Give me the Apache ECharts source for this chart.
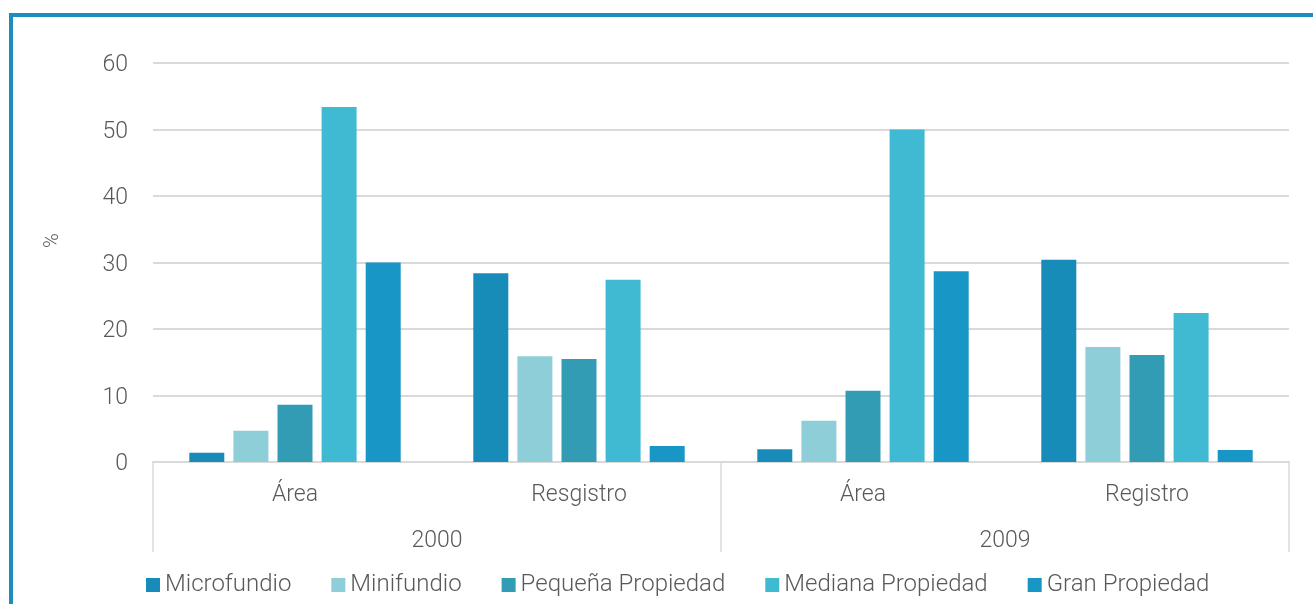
<!DOCTYPE html>
<html>
<head>
<meta charset="utf-8">
<script src="https://cdn.jsdelivr.net/npm/echarts@6/dist/echarts.min.js"></script>
<style>
html,body{margin:0;padding:0;background:#fff;}
#c{width:1313px;height:604px;}
</style>
</head>
<body>
<div id="c"></div>
<script>
const categories = ['Área', 'Resgistro', 'Área', 'Registro'];
const years = ['2000', '2009'];
const seriesNames = ['Microfundio', 'Minifundio', 'Pequeña Propiedad', 'Mediana Propiedad', 'Gran Propiedad'];
const microfundio = [1.4, 28.4, 1.9, 30.4];
const minifundio = [4.7, 15.9, 6.2, 17.3];
const pequena = [8.6, 15.5, 10.7, 16.1];
const mediana = [53.4, 27.4, 50.0, 22.4];
const gran = [30.0, 2.4, 28.7, 1.8];
const yTicks = {min: 0, max: 60, interval: 10};

const colors = ['#178cb9', '#8dced8', '#329cb4', '#3fbad2', '#1896c6'];
const values = [microfundio, minifundio, pequena, mediana, gran];
const FONT = 'Roboto';
const TXT = '#595959';
const FS = 23;

const chart = echarts.init(document.getElementById('c'), null, {renderer: 'canvas'});
chart.setOption({
  animation: false,
  color: colors,
  grid: {left: 153, right: 24, top: 63, bottom: 142, containLabel: false},
  graphic: [{
    type: 'rect', silent: true, z: 100,
    shape: {x: 11, y: 15, width: 2000, height: 2000},
    style: {fill: 'none', stroke: '#1b8ebd', lineWidth: 4}
  }],
  legend: {
    left: 146, top: 573, padding: 0,
    itemWidth: 14, itemHeight: 14, itemGap: 40,
    icon: 'rect',
    textStyle: {fontFamily: FONT, fontWeight: 300, fontSize: 24, color: TXT},
    data: seriesNames
  },
  xAxis: [{
    type: 'category', data: categories, position: 'bottom',
    axisLine: {show: true, lineStyle: {color: '#d9d9d9', width: 2}},
    axisTick: {show: false},
    axisLabel: {fontFamily: FONT, fontWeight: 300, fontSize: FS, color: TXT, margin: 22}
  }, {
    type: 'category', data: years, position: 'bottom',
    axisLine: {show: false},
    axisTick: {show: true, length: 90, interval: 0, alignWithLabel: false, lineStyle: {color: '#d9d9d9', width: 1.5}},
    axisLabel: {fontFamily: FONT, fontWeight: 300, fontSize: FS, color: TXT, margin: 68}
  }],
  yAxis: {
    type: 'value', min: yTicks.min, max: yTicks.max, interval: yTicks.interval,
    name: '%', nameLocation: 'middle', nameGap: 90, nameRotate: 90,
    nameTextStyle: {fontFamily: FONT, fontWeight: 300, fontSize: 20, color: TXT, padding: [0, 0, 0, 44]},
    axisLine: {show: false}, axisTick: {show: false},
    axisLabel: {
      margin: 25, formatter: '{a|{value}}',
      rich: {a: {fontFamily: FONT, fontWeight: 300, fontSize: FS, color: TXT, padding: [5, 0, 0, 0]}}
    },
    splitLine: {lineStyle: {color: '#d9d9d9', width: 2}}
  },
  series: seriesNames.map((n, i) => ({
    name: n, type: 'bar', xAxisIndex: 0, data: values[i],
    barWidth: 35, barGap: '26%',
    itemStyle: {color: colors[i]}
  }))
});
</script>
</body>
</html>
